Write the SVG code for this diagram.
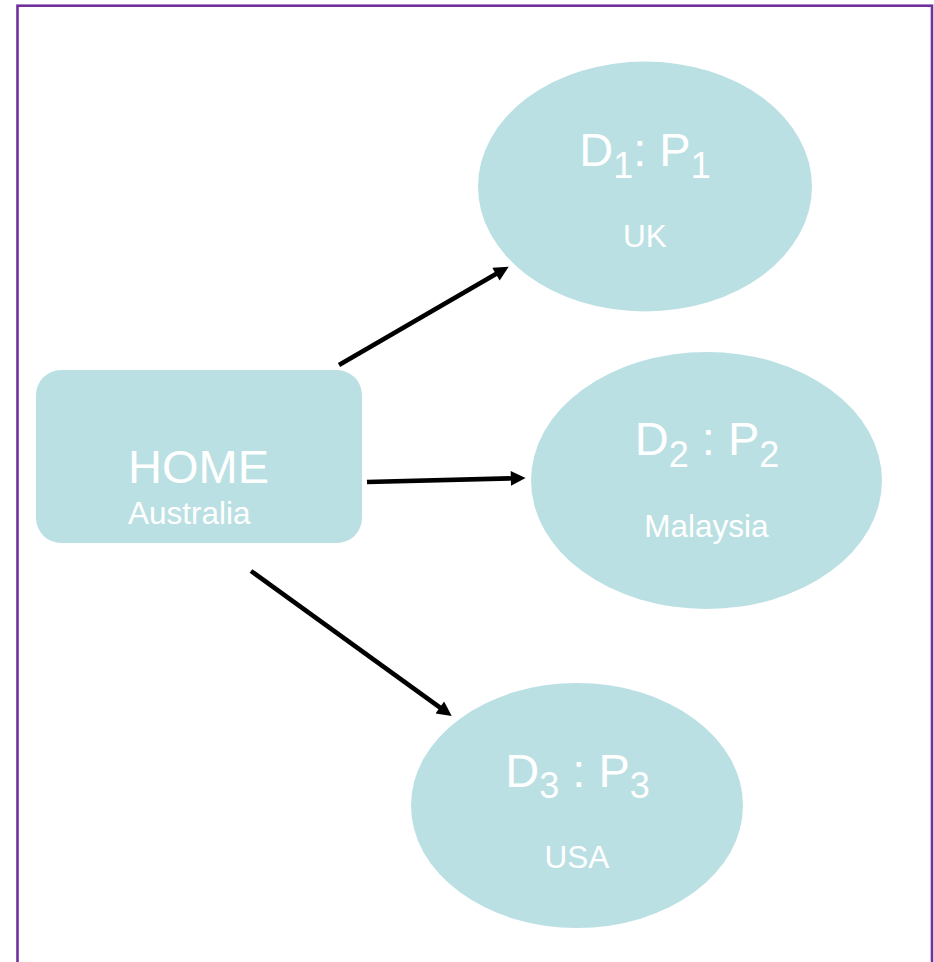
<svg xmlns="http://www.w3.org/2000/svg" width="934" height="962" viewBox="0 0 934 962">
  <style>
    .shape { fill: #BBE0E3; }
    .big { font-family: "Liberation Sans", Arial, sans-serif; font-size: 47px; fill: #FFFFFF; }
    .sub { font-size: 36px; }
    .small { font-family: "Liberation Sans", Arial, sans-serif; font-size: 31.5px; fill: #FFFFFF; }
    .conn { stroke: #000000; stroke-width: 4.6; fill: none; marker-end: url(#arrow); }
  </style>
  <defs>
    <marker id="arrow" viewBox="0 0 10 10" refX="2" refY="5" markerWidth="3.6" markerHeight="3.2" orient="auto">
      <path d="M0,0 L10,5 L0,10 z" fill="#000000"/>
    </marker>
  </defs>
  <rect x="17.5" y="5.7" width="914.5" height="1000" fill="#FFFFFF" stroke="#7030A0" stroke-width="2.6"/>

  <g id="home">
    <rect class="shape" x="36" y="370" width="326" height="173" rx="25" ry="25"/>
    <text class="big" x="128" y="483">HOME</text>
    <text class="small" x="128" y="524">Australia</text>
  </g>

  <g id="uk">
    <ellipse class="shape" cx="645" cy="186.5" rx="167" ry="125"/>
    <text class="big" x="645" y="166" text-anchor="middle">D<tspan class="sub" dy="12">1</tspan><tspan dy="-12">: P</tspan><tspan class="sub" dy="12">1</tspan></text>
    <text class="small" x="645" y="247" text-anchor="middle">UK</text>
  </g>

  <g id="malaysia">
    <ellipse class="shape" cx="706.5" cy="480.5" rx="175.5" ry="128.5"/>
    <text class="big" x="707" y="455" text-anchor="middle">D<tspan class="sub" dy="12">2</tspan><tspan dy="-12"> : P</tspan><tspan class="sub" dy="12">2</tspan></text>
    <text class="small" x="706.5" y="537" text-anchor="middle">Malaysia</text>
  </g>

  <g id="usa">
    <ellipse class="shape" cx="577" cy="805.5" rx="166" ry="122.5"/>
    <text class="big" x="577.5" y="787" text-anchor="middle">D<tspan class="sub" dy="11">3</tspan><tspan dy="-11"> : P</tspan><tspan class="sub" dy="11">3</tspan></text>
    <text class="small" x="577" y="868" text-anchor="middle">USA</text>
  </g>

  <g id="connectors">
    <line class="conn" x1="339" y1="365" x2="498.5" y2="272.6"/>
    <line class="conn" x1="367" y1="482" x2="513.8" y2="478.3"/>
    <line class="conn" x1="251" y1="571" x2="442.2" y2="709.2"/>
  </g>
</svg>
